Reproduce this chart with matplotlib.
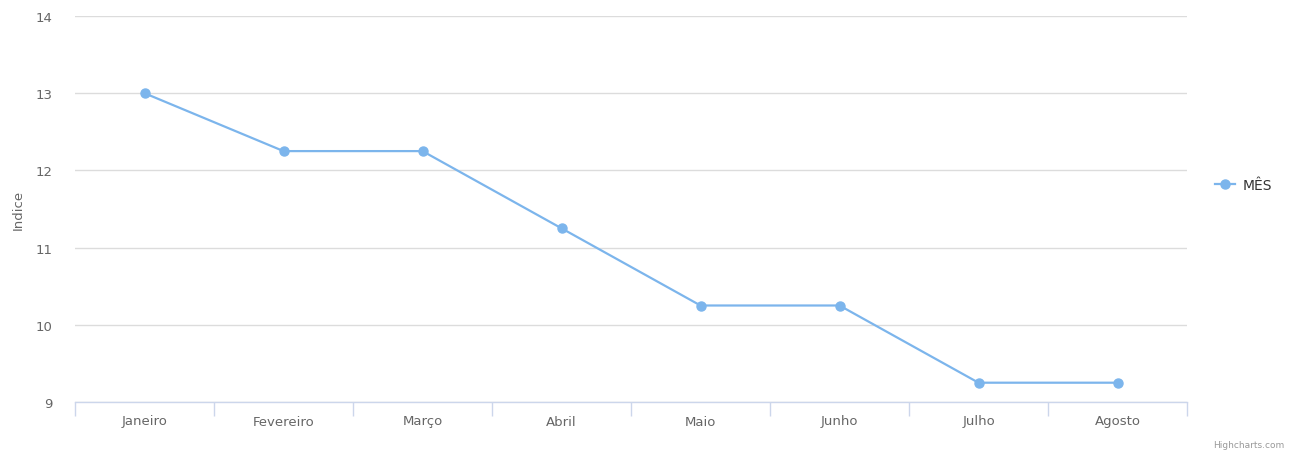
import matplotlib
matplotlib.use("Agg")
import matplotlib.pyplot as plt
from matplotlib.lines import Line2D

categories = ["Janeiro", "Fevereiro", "Março", "Abril", "Maio", "Junho", "Julho", "Agosto"]
values = [13, 12.25, 12.25, 11.25, 10.25, 10.25, 9.25, 9.25]
series_name = "MÊS"
y_ticks = [9, 10, 11, 12, 13, 14]
y_label = "Indice"

plt.rcParams['font.family'] = ['DejaVu Sans']
W, H = 1295, 460
fig = plt.figure(figsize=(W / 100, H / 100), dpi=100)
ax = fig.add_axes([75 / W, 1 - 403 / H, (1187 - 75) / W, (403 - 17) / H])

x = list(range(len(categories)))
color = "#7cb5ec"
ax.plot(x, values, color=color, lw=1.6, marker="o", ms=6.5, zorder=3, clip_on=False)

ax.set_xlim(-0.5, len(categories) - 0.5)
ax.set_ylim(9, 14)
ax.set_yticks(y_ticks)
ax.set_yticklabels([str(v) for v in y_ticks], fontsize=9.5, color="#666666")
ax.grid(axis="y", color="#dcdcdc", lw=1)
ax.set_axisbelow(True)
ax.tick_params(axis="y", length=0, pad=16)

ax.set_xticks([i - 0.5 for i in range(len(categories) + 1)])
ax.set_xticklabels([])
ax.set_xticks(x, minor=True)
ax.set_xticklabels(categories, minor=True, fontsize=9.5, color="#666666")
ax.tick_params(axis="x", which="major", length=10, color="#ccd6eb", width=1)
ax.tick_params(axis="x", which="minor", length=0, pad=9)

for s in ["top", "right", "left"]:
    ax.spines[s].set_visible(False)
ax.spines["bottom"].set_color("#ccd6eb")
ax.spines["bottom"].set_linewidth(1)

fig.text(18 / W, 1 - 210 / H, y_label, rotation=90, ha="center", va="center",
         fontsize=9.5, color="#666666")

handle = Line2D([0], [0], color=color, lw=1.6, marker="o", ms=6.5)
fig.legend([handle], [series_name], loc="center left",
           bbox_to_anchor=(1202 / W, 1 - 186 / H), frameon=False,
           fontsize=10, handlelength=1.5, handletextpad=0.5,
           labelcolor="#333333")

fig.text(1284 / W, 1 - 446 / H, "Highcharts.com", ha="right", va="center",
         fontsize=6.5, color="#999999")

fig.savefig("out.png", dpi=100)
